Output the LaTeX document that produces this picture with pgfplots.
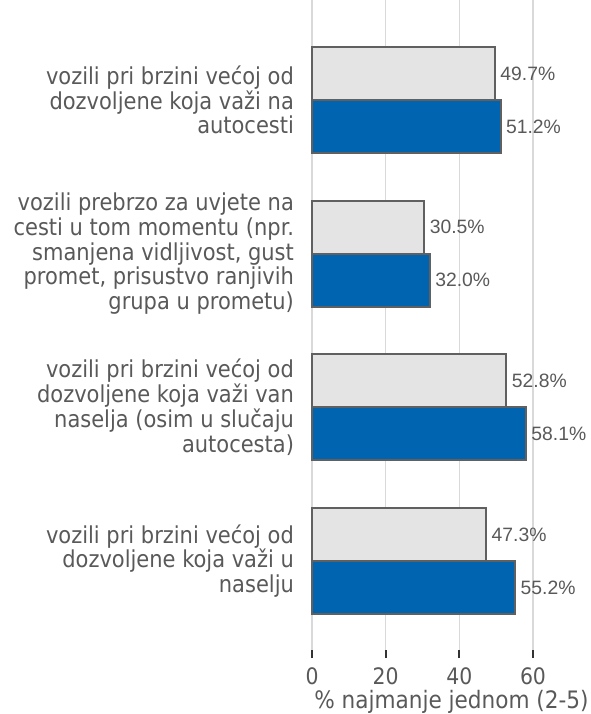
\documentclass[border=0pt]{standalone}
\usepackage{fontspec}
\setmainfont{DejaVu Sans Condensed}
\newfontfamily\valfont{Liberation Sans}
\usepackage{pgfplots}
\pgfplotsset{compat=1.18}
\definecolor{bargrey}{HTML}{E4E4E4}
\definecolor{barblue}{HTML}{0064B0}
\definecolor{edge}{HTML}{606060}
\definecolor{txt}{HTML}{595959}
\definecolor{gridc}{HTML}{D9D9D9}

\begin{document}
\begin{tikzpicture}
\begin{axis}[
    scale only axis,
    width=209.25pt, height=487.5pt,
    xbar=0pt, bar width=39.75pt,
    xmin=0, xmax=75.75,
    ymin=0.421, ymax=4.651,
    ytick={1,2,3,4},
    yticklabels={
      {vozili pri brzini većoj od\\dozvoljene koja važi u\\naselju},
      {vozili pri brzini većoj od\\dozvoljene koja važi van\\naselja (osim u slučaju\\autocesta)},
      {vozili prebrzo za uvjete na\\cesti u tom momentu (npr.\\smanjena vidljivost, gust\\promet, prisustvo ranjivih\\grupa u prometu)},
      {vozili pri brzini većoj od\\dozvoljene koja važi na\\autocesti}},
    xtick={0,20,40,60},
    /pgf/number format/assume math mode=true,
    axis x line*=bottom, axis y line*=left,
    x axis line style={draw=none}, y axis line style={draw=none},
    ytick style={draw=none},
    xtick style={draw=black!80, line width=1.5pt},
    tick align=outside,
    major tick length=6pt,
    xmajorgrids,
    major grid style={gridc, line width=1.1pt},
    yticklabel style={font=\fontsize{17.5}{18.6}\selectfont, text=txt, align=right, xshift=-4pt},
    xticklabel style={font=\fontsize{17}{20}\selectfont, text=txt, yshift=-4pt},
    xlabel={\% najmanje jednom (2-5)},
    xlabel style={font=\fontsize{18}{20}\selectfont, text=txt, yshift=3pt},
    nodes near coords={\pgfmathprintnumber[fixed,precision=1,fixed zerofill,assume math mode=true]{\pgfplotspointmeta}\%},
    every node near coord/.append style={font=\valfont\fontsize{14.5}{16}\selectfont, text=txt, anchor=west},
    clip=false,
]
\addplot[fill=barblue, draw=edge, line width=1.5pt] coordinates {
    (55.2,1) (58.1,2) (32.0,3) (51.2,4)
};
\addplot[fill=bargrey, draw=edge, line width=1.5pt] coordinates {
    (47.3,1) (52.8,2) (30.5,3) (49.7,4)
};
\end{axis}
\pgfresetboundingbox
\path (current axis.south west) ++(-234pt,-48pt) rectangle ++(443.25pt,535.5pt);
\end{tikzpicture}
\end{document}
